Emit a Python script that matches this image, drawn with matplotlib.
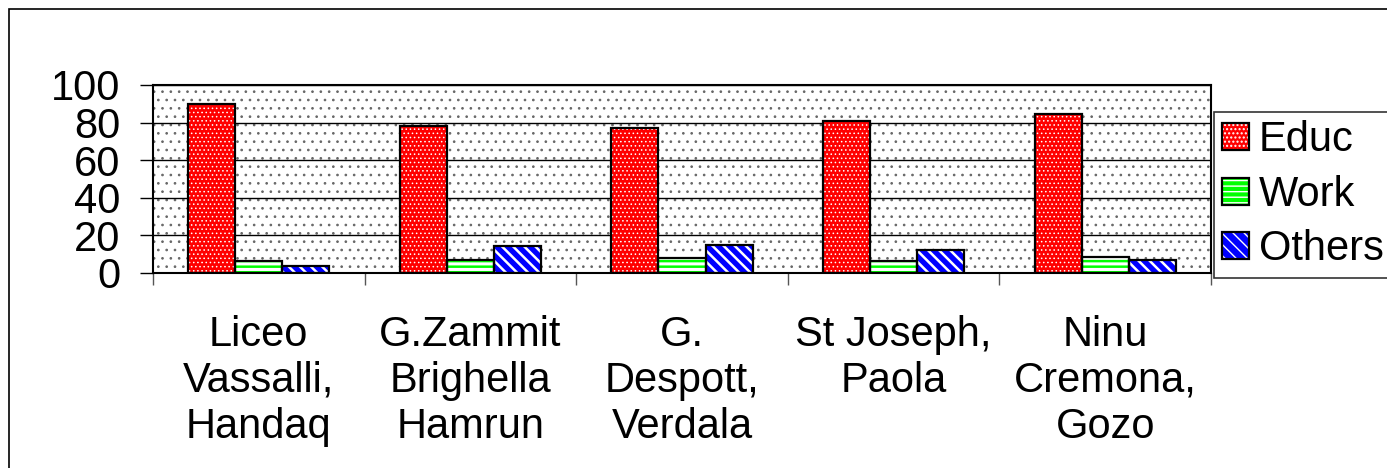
import matplotlib
matplotlib.use("Agg")
import matplotlib.pyplot as plt
import numpy as np
from matplotlib.patches import Rectangle, Patch
from matplotlib.legend_handler import HandlerTuple

plt.rcParams['font.family'] = ['Liberation Sans', 'DejaVu Sans']

# data (percentages)
schools = ["Liceo\nVassalli,\nHandaq", "G.Zammit\nBrighella\nHamrun",
           "G.\nDespott,\nVerdala", "St Joseph,\nPaola", "Ninu\nCremona,\nGozo"]
series_names = ["Educ", "Work", "Others"]
educ = [90, 78, 77, 81, 84.5]
work = [6.5, 7, 8, 6.5, 8.5]
others = [3.5, 14.5, 15, 12, 7]
yticks = [0, 20, 40, 60, 80, 100]

colors = ["#ff0000", "#00ff00", "#0000ff"]
hatches = ["....", "---", "\\\\\\"]
hatch_lw = [0.6, 2.2, 1.8]

W, H = 1387, 468
fs = 30
fig = plt.figure(figsize=(W / 100, H / 100), dpi=100)
ax = fig.add_axes([153 / W, 1 - 273 / H, (1211 - 153) / W, (273 - 85) / H])

# dotted plot-area background
with plt.rc_context({'hatch.linewidth': 0.7}):
    ax.add_patch(Rectangle((0, 0), 1, 1, transform=ax.transAxes, facecolor='white',
                           edgecolor='#666666', hatch='..', lw=0, zorder=0))

x = np.arange(len(schools))
bw = 2 / 9
handles = []
for i, (vals, c, h, hl) in enumerate(zip([educ, work, others], colors, hatches, hatch_lw)):
    off = (i - 1) * bw
    with plt.rc_context({'hatch.linewidth': hl}):
        ax.bar(x + off, vals, bw, color=c, edgecolor='white', hatch=h, linewidth=0, zorder=2)
        p1 = Patch(facecolor=c, edgecolor='white', hatch=h, linewidth=0)
    ax.bar(x + off, vals, bw, fill=False, edgecolor='black', linewidth=1.6, zorder=3)
    p2 = Patch(fill=False, edgecolor='black', linewidth=1.6)
    handles.append((p1, p2))

ax.set_xlim(-0.5, len(schools) - 0.5)
ax.set_ylim(0, 100)
ax.set_yticks(yticks)
ax.set_yticklabels([str(v) for v in yticks], fontsize=fs)
ax.set_xticks(x)
ax.set_xticklabels(schools, fontsize=fs, linespacing=1.2, multialignment='center')
ax.set_xticks(np.arange(-0.5, len(schools)), minor=True)
ax.tick_params(axis='x', which='major', length=0, pad=30)
ax.tick_params(axis='x', which='minor', length=8.6, width=1.0, color='#555555', direction='out')
ax.tick_params(axis='y', length=9.4, width=1.0, pad=14, direction='out')

ax.set_axisbelow(True)
ax.yaxis.grid(True, color='black', linewidth=1.0)
for s in ax.spines.values():
    s.set_linewidth(1.5)
    s.set_color('black')

leg = fig.legend(handles, series_names, loc='upper left',
                 bbox_to_anchor=(1214 / W, 1 - 112 / H), bbox_transform=fig.transFigure,
                 borderaxespad=0, fontsize=fs, frameon=True, fancybox=False,
                 handler_map={tuple: HandlerTuple(ndivide=1)},
                 handlelength=0.63, handleheight=0.63, handletextpad=0.25,
                 labelspacing=0.35, borderpad=0.2)
leg.get_frame().set_edgecolor('black')
leg.get_frame().set_linewidth(1.2)

# outer chart frame (only left and top edges fall inside the picture)
fig.add_artist(Rectangle((9 / W, -0.5), 2, 1.5 - 9 / H, transform=fig.transFigure,
                         fill=False, edgecolor='black', lw=1.2))

fig.savefig("out.png", dpi=100)
